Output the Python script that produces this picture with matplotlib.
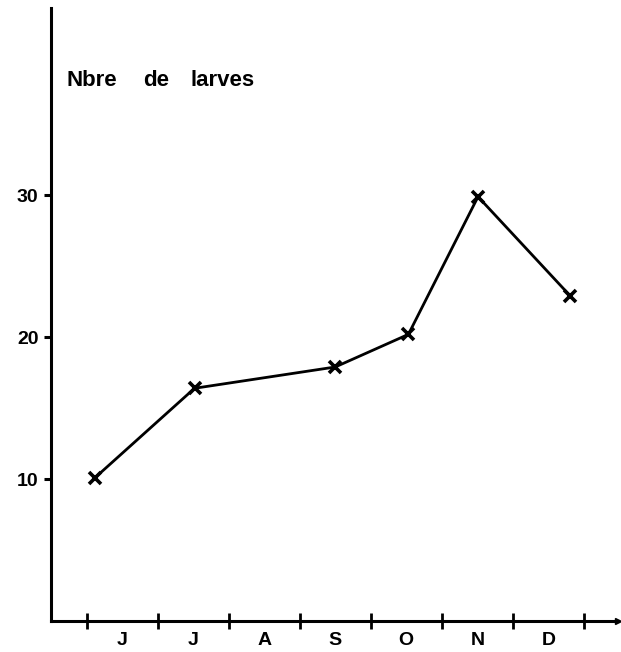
import matplotlib
matplotlib.use("Agg")
import matplotlib.pyplot as plt

months = ["J", "J", "A", "S", "O", "N", "D"]
x_pos = [0.12, 1.52, 3.50, 4.53, 5.51, 6.81]
larves = [10.1, 16.4, 17.9, 20.2, 29.9, 22.9]
y_ticks = [10, 20, 30]
y_label_words = ["Nbre", "de", "larves"]

plt.rcParams['font.family'] = ['Liberation Sans', 'DejaVu Sans']

fig = plt.figure(figsize=(6.21, 6.52), dpi=100)
ax = fig.add_axes([51/621, 31/652, (618-51)/621, (621-8)/652])

ax.plot(x_pos, larves, color='black', lw=2.0, marker='x', ms=9, mew=2.6,
        solid_joinstyle='round')

ax.set_xlim(-0.5, 7.48)
ax.set_ylim(0, 43.2)

for s in ['top', 'right']:
    ax.spines[s].set_visible(False)
for s in ['left', 'bottom']:
    ax.spines[s].set_linewidth(2.2)

ax.set_xticks(range(8))
ax.set_xticklabels([])
ax.set_xticks([i + 0.5 for i in range(7)], minor=True)
ax.set_xticklabels(months, minor=True, fontsize=14, fontweight='bold')
ax.tick_params(axis='x', which='major', direction='inout', length=12, width=2)
ax.tick_params(axis='x', which='minor', length=0, pad=8)

ax.set_yticks(y_ticks)
ax.set_yticklabels([str(v) for v in y_ticks], fontsize=14, fontweight='bold')
ax.tick_params(axis='y', direction='out', length=5, width=2.2, pad=4)

ax.plot(1, 0, marker='>', color='black', ms=5, transform=ax.get_yaxis_transform(),
        clip_on=False)

for word, px in zip(y_label_words, [67, 143, 190]):
    fig.text(px/621, 1 - 80/652, word, fontsize=16, fontweight='bold',
             ha='left', va='center')

fig.savefig("out.png", dpi=100)
